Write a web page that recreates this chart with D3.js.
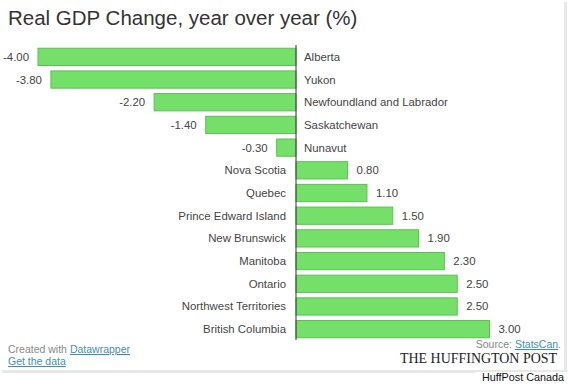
<!DOCTYPE html>
<html><head><meta charset="utf-8">
<script src="https://cdn.jsdelivr.net/npm/d3@7"></script>
<style>
html,body{margin:0;padding:0;background:#fff;}
svg{display:block;font-family:"Liberation Sans",Arial,sans-serif;}
</style></head>
<body>
<svg id="c" width="570" height="385"></svg>
<script>
const provinces = ["Alberta","Yukon","Newfoundland and Labrador","Saskatchewan","Nunavut","Nova Scotia","Quebec","Prince Edward Island","New Brunswick","Manitoba","Ontario","Northwest Territories","British Columbia"];
const gdpChange = [-4.00,-3.80,-2.20,-1.40,-0.30,0.80,1.10,1.50,1.90,2.30,2.50,2.50,3.00];
const data = provinces.map((p,i)=>({name:p, v:gdpChange[i]}));

const svg = d3.select("#c");
// card with faint shadow
svg.append("rect").attr("x",2).attr("y",2).attr("width",565).attr("height",371).attr("fill","#e8e8e8");
svg.append("rect").attr("x",0).attr("y",0).attr("width",564).attr("height",370).attr("fill","#fff");

svg.append("text").attr("x",8).attr("y",25).attr("font-size",20.5).attr("fill","#333")
  .text("Real GDP Change, year over year (%)");

const x = d3.scaleLinear().domain([-4,3]).range([38,489.5]);
const y = d3.scaleBand().domain(provinces).range([45.5,340.5]).paddingInner(0.24).paddingOuter(0.12);

const g = svg.append("g");
g.selectAll("rect.bar").data(data).join("rect").attr("class","bar")
  .attr("x",d=>x(Math.min(0,d.v))).attr("width",d=>Math.abs(x(d.v)-x(0)))
  .attr("y",d=>y(d.name)).attr("height",y.bandwidth())
  .attr("fill","#74e06a").attr("stroke","#5cc052").attr("stroke-width",1);

g.append("line").attr("x1",x(0)).attr("x2",x(0)).attr("y1",45).attr("y2",340)
  .attr("stroke","#333").attr("stroke-width",1);

const fs = 11.4;
const fmt = v => v.toFixed(2);
g.selectAll("text.cat").data(data).join("text").attr("class","cat")
  .attr("x",d=>d.v<0 ? x(0)+8 : x(0)-10)
  .attr("y",d=>y(d.name)+y.bandwidth()/2).attr("dy","0.35em")
  .attr("text-anchor",d=>d.v<0?"start":"end")
  .attr("font-size",fs).attr("fill","#444").text(d=>d.name);

g.selectAll("text.val").data(data).join("text").attr("class","val")
  .attr("x",d=>d.v<0 ? x(d.v)-9 : x(d.v)+9)
  .attr("y",d=>y(d.name)+y.bandwidth()/2).attr("dy","0.35em")
  .attr("text-anchor",d=>d.v<0?"end":"start")
  .attr("font-size",fs).attr("fill","#444").text(d=>fmt(d.v));

// footer
const f1 = svg.append("text").attr("x",8).attr("y",353).attr("font-size",10.5).attr("fill","#888");
f1.append("tspan").text("Created with ");
f1.append("tspan").attr("fill","#3f8fb5").attr("text-decoration","underline").text("Datawrapper");
svg.append("text").attr("x",8).attr("y",365).attr("font-size",10.5).attr("fill","#3f8fb5")
  .attr("text-decoration","underline").text("Get the data");

const f2 = svg.append("text").attr("x",561).attr("y",348).attr("font-size",10.5).attr("fill","#888").attr("text-anchor","end");
f2.append("tspan").text("Source: ");
f2.append("tspan").attr("fill","#3f8fb5").attr("text-decoration","underline").text("StatsCan");
f2.append("tspan").text(".");

svg.append("text").attr("x",400).attr("y",363)
  .attr("font-family","'Liberation Serif','DejaVu Serif',serif").attr("font-size",14.5).attr("fill","#222")
  .attr("textLength",157).attr("lengthAdjust","spacingAndGlyphs").text("THE HUFFINGTON POST");

svg.append("rect").attr("x",475).attr("y",372).attr("width",95).attr("height",13).attr("fill","#fff");
svg.append("text").attr("x",564).attr("y",381).attr("text-anchor","end").attr("font-size",10.8).attr("fill","#111")
  .text("HuffPost Canada");
</script>
</body></html>
